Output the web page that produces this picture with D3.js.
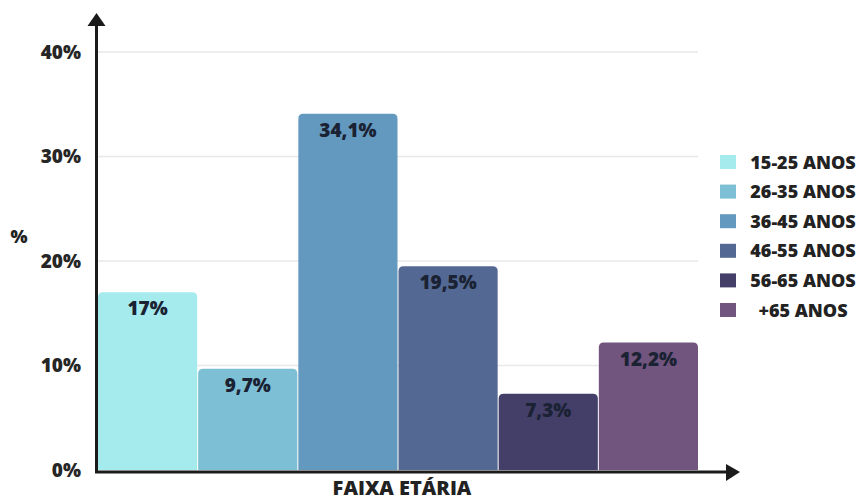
<!DOCTYPE html>
<html>
<head>
<meta charset="utf-8">
<script src="https://cdn.jsdelivr.net/npm/d3@7/dist/d3.min.js"></script>
<style>
  html, body { margin: 0; padding: 0; background: #fff; }
  svg { display: block; font-family: "Open Sans", "Noto Sans", sans-serif; }
</style>
</head>
<body>
<svg id="chart" width="861" height="502"></svg>
<script>
// Age groups and their share of respondents (%)
const categories = ["15-25 ANOS", "26-35 ANOS", "36-45 ANOS", "46-55 ANOS", "56-65 ANOS", "+65 ANOS"];
const values = [17, 9.7, 34.1, 19.5, 7.3, 12.2];
const valueLabels = ["17%", "9,7%", "34,1%", "19,5%", "7,3%", "12,2%"];
const colors = ["#a5ebee", "#7dbfd4", "#6499bf", "#536892", "#443f69", "#71557f"];
const yTicks = [0, 10, 20, 30, 40];
const yTickLabels = ["0%", "10%", "20%", "30%", "40%"];
const xTitle = "FAIXA ETÁRIA";
const yTitle = "%";

const svg = d3.select("#chart");
const ink = "#1b1b1b";
const W = 800;

const x = d3.scaleBand().domain(categories).range([98, 698]).paddingInner(0.01).paddingOuter(0);
const y = d3.scaleLinear().domain([0, 40]).range([470, 52]);

// gridlines
svg.append("g")
  .selectAll("line")
  .data(yTicks.filter(d => d > 0))
  .join("line")
  .attr("x1", 98).attr("x2", 698)
  .attr("y1", d => y(d)).attr("y2", d => y(d))
  .attr("stroke", "#e8e8e8").attr("stroke-width", 1.5);

// bars with rounded top corners
const r = 5;
function barPath(d, i) {
  const x0 = x(categories[i]), w = x.bandwidth();
  const top = y(d), bottom = y(0);
  return `M${x0},${bottom}V${top + r}Q${x0},${top} ${x0 + r},${top}H${x0 + w - r}Q${x0 + w},${top} ${x0 + w},${top + r}V${bottom}Z`;
}
svg.append("g")
  .selectAll("path")
  .data(values)
  .join("path")
  .attr("d", barPath)
  .attr("fill", (d, i) => colors[i]);

// value labels
svg.append("g")
  .selectAll("text")
  .data(values)
  .join("text")
  .attr("x", (d, i) => x(categories[i]) + x.bandwidth() / 2)
  .attr("y", d => y(d) + 23)
  .attr("text-anchor", "middle")
  .attr("font-size", 19)
  .attr("font-weight", W)
  .attr("fill", "#1a2233")
  .text((d, i) => valueLabels[i]);

// y axis tick labels
const yAxis = d3.axisLeft(y).tickValues(yTicks).tickSize(0).tickPadding(0)
  .tickFormat((d, i) => yTickLabels[i]);
const gy = svg.append("g").attr("transform", "translate(81,0)").call(yAxis);
gy.select(".domain").remove();
gy.selectAll("text")
  .attr("font-family", "'Open Sans', sans-serif")
  .attr("font-size", 19)
  .attr("font-weight", W)
  .attr("fill", "#262626");

// axes with arrowheads
svg.append("line").attr("x1", 96.5).attr("x2", 96.5).attr("y1", 473).attr("y2", 24)
  .attr("stroke", ink).attr("stroke-width", 3);
svg.append("path").attr("d", "M96.5,13L105.5,26L87.5,26Z").attr("fill", ink);
svg.append("line").attr("x1", 95).attr("x2", 728).attr("y1", 472).attr("y2", 472)
  .attr("stroke", ink).attr("stroke-width", 3);
svg.append("path").attr("d", "M740,472L726,464L726,481Z").attr("fill", ink);

// axis titles
svg.append("text").attr("x", 402).attr("y", 495).attr("text-anchor", "middle")
  .attr("font-size", 20).attr("font-weight", W).attr("fill", "#222")
  .text(xTitle);
svg.append("text").attr("x", 19).attr("y", 243).attr("text-anchor", "middle")
  .attr("font-size", 18).attr("font-weight", W).attr("fill", "#222")
  .text(yTitle);

// legend
const legend = svg.append("g")
  .selectAll("g")
  .data(categories)
  .join("g")
  .attr("transform", (d, i) => `translate(0,${162 + i * 29.6})`);
legend.append("rect")
  .attr("x", 720).attr("y", -7).attr("width", 16).attr("height", 14)
  .attr("fill", (d, i) => colors[i]);
legend.append("text")
  .attr("x", 803).attr("y", 6.5).attr("text-anchor", "middle")
  .attr("font-size", 18).attr("font-weight", W).attr("fill", "#222")
  .text(d => d);
</script>
</body>
</html>
